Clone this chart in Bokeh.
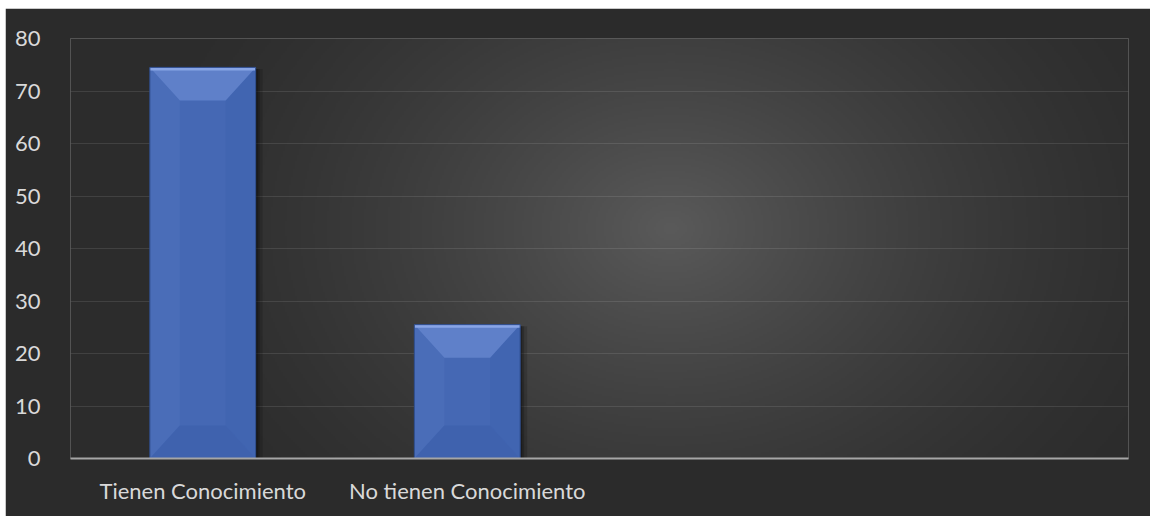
import numpy as np
from bokeh.plotting import figure
from bokeh.models import Range1d, FixedTicker
from bokeh.embed import file_html
from bokeh.resources import INLINE

# ---- data ----
categories = ["Tienen Conocimiento", "No tienen Conocimiento", "", ""]
values = [74.5, 25.5]
y_ticks = [0, 10, 20, 30, 40, 50, 60, 70, 80]

n_slots = len(categories)
y_max = y_ticks[-1]

FW, FH = 1058, 420
p = figure(frame_width=FW, frame_height=FH,
           x_range=Range1d(0, n_slots), y_range=Range1d(0, y_max),
           output_backend="svg", toolbar_location=None,
           min_border_left=65, min_border_right=22,
           min_border_top=30, min_border_bottom=58)
p.styles = {"margin-left": "5px", "margin-top": "8px"}

p.border_fill_color = "#2b2b2b"
p.background_fill_color = "#2e2e2e"
p.outline_line_color = None

# ---- radial background gradient (style only) ----
GW, GH = 530, 210
gx = (np.arange(GW) + 0.5) / GW * FW
gy = (np.arange(GH) + 0.5) / GH * FH
X, Y = np.meshgrid(gx, gy)
cx, cy = 600.0, 230.0
d = np.sqrt(((X - cx) / 560.0) ** 2 + ((Y - cy) / 430.0) ** 2)
t = np.clip(1.0 - d, 0, 1) ** 1.5
lum = (0x2c + (0x5a - 0x2c) * t).astype(np.uint32)
img = np.empty((GH, GW), dtype=np.uint32)
view = img.view(dtype=np.uint8).reshape((GH, GW, 4))
view[:, :, 0] = lum
view[:, :, 1] = lum
view[:, :, 2] = lum
view[:, :, 3] = 255
p.image_rgba(image=[img], x=0, y=0, dw=n_slots, dh=y_max, level="image")

# ---- bars ----
xs = [i + 0.5 for i in range(len(values))]
bw = 0.4
px_x = n_slots / FW
px_y = y_max / FH
ix, iy = 30 * px_x, 33 * px_y

for k, a in [(7, 0.15), (4, 0.2), (2, 0.25)]:
    p.vbar(x=[x + k * px_x for x in xs], top=[v - 1.5 * px_y for v in values],
           bottom=0, width=bw, fill_color="black", fill_alpha=a, line_color=None)

p.vbar(x=xs, top=values, bottom=0, width=bw,
       fill_color="#4568b4", line_color=None)

tops_x, tops_y, bots_x, bots_y = [], [], [], []
lefts_x, lefts_y, rights_x, rights_y = [], [], [], []
for x, v in zip(xs, values):
    l, r = x - bw / 2, x + bw / 2
    tops_x.append([l, r, r - ix, l + ix]); tops_y.append([v, v, v - iy, v - iy])
    bots_x.append([l, r, r - ix, l + ix]); bots_y.append([0, 0, iy, iy])
    lefts_x.append([l, l + ix, l + ix, l]); lefts_y.append([v, v - iy, iy, 0])
    rights_x.append([r, r - ix, r - ix, r]); rights_y.append([v, v - iy, iy, 0])

p.patches(lefts_x, lefts_y, fill_color="#4a6db8", line_color=None)
p.patches(rights_x, rights_y, fill_color="#4165b1", line_color=None)
p.patches(bots_x, bots_y, fill_color="#3f62ae", line_color=None)
p.patches(tops_x, tops_y, fill_color="#5f80c9", line_color=None)
p.vbar(x=xs, top=values, bottom=[v - 3 * px_y for v in values], width=bw,
       fill_color="#88a5e6", line_color=None)
p.vbar(x=xs, top=values, bottom=0, width=bw, fill_color=None,
       line_color="#2f4d8c", line_width=1)

# ---- axes ----
font = "Lato"
p.yaxis.ticker = FixedTicker(ticks=y_ticks)
p.yaxis.axis_line_color = None
p.yaxis.major_tick_line_color = None
p.yaxis.minor_tick_line_color = None
p.yaxis.major_label_standoff = 24
p.yaxis.major_label_text_color = "#d9d9d9"
p.yaxis.major_label_text_font = font
p.yaxis.major_label_text_font_size = "22px"

p.xaxis.ticker = FixedTicker(ticks=[i + 0.5 for i in range(n_slots)])
p.xaxis.major_label_overrides = {i + 0.5: c for i, c in enumerate(categories)}
p.xaxis.axis_line_color = "#a6a6a6"
p.xaxis.axis_line_width = 2
p.xaxis.major_tick_line_color = None
p.xaxis.minor_tick_line_color = None
p.xaxis.major_label_standoff = 12
p.xaxis.major_label_text_color = "#d9d9d9"
p.xaxis.major_label_text_font = font
p.xaxis.major_label_text_font_size = "22px"

p.xgrid.grid_line_color = None
p.ygrid.ticker = FixedTicker(ticks=y_ticks[1:])
p.ygrid.grid_line_color = "#ffffff"
p.ygrid.grid_line_alpha = 0.1
p.ygrid.grid_line_width = 1

open("out.html", "w").write(file_html(p, INLINE))
